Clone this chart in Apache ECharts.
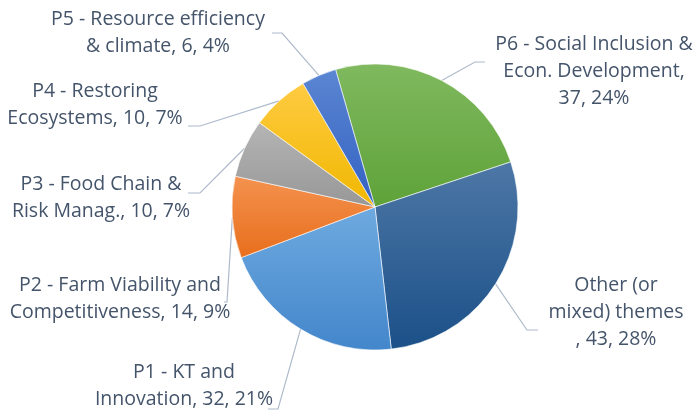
<!DOCTYPE html>
<html>
<head>
<meta charset="utf-8">
<script src="https://cdn.jsdelivr.net/npm/echarts@6/dist/echarts.min.js"></script>
<style>
  html, body { margin: 0; padding: 0; background: #fff; }
  #main { width: 697px; height: 412px; }
</style>
</head>
<body>
<div id="main"></div>
<script>
// data (clockwise from the top slice)
var names = [
    'P6 - Social Inclusion &\nEcon. Development',
    'Other (or\nmixed) themes',
    'P1 - KT and\nInnovation',
    'P2 - Farm Viability and\nCompetitiveness',
    'P3 - Food Chain &\nRisk Manag.',
    'P4 - Restoring\nEcosystems',
    'P5 - Resource efficiency\n& climate'
];
var values = [37, 43, 32, 14, 10, 10, 6];
// how the value part joins onto the name in each label
var joins = [',\n', '\n, ', ', ', ', ', ', ', ', ', ', '];

// gradient colours top -> bottom
var colorTop = ['#80b95f', '#4d77a6', '#6eaae0', '#f4924f', '#b5b5b5', '#ffcb42', '#5b86d2'];
var colorBot = ['#5ea238', '#1b5088', '#4386cb', '#e86e1c', '#979797', '#f0b700', '#3361c2'];

// label placement: label centre, leader bend, leader end
var labelPos = [[594, 71], [616, 312], [184, 386], [120, 299], [101, 198], [95, 105], [158, 33]];
var bendPos = [[475, 62], [527, 330], [278, 409], [227, 302], [200, 193], [200, 126], [282, 33]];
var endPos = [[485, 62], [538, 330], [268, 409], [224, 302], [188, 193], [188, 126], [272, 33]];

var cx = 375, cy = 207, R = 143;
var firstAngle = -16; // degrees clockwise from 12 o'clock

var total = 0;
values.forEach(function (v) { total += v; });
var midPts = [];
var cum = 0;
values.forEach(function (v) {
    var a = (firstAngle + (cum + v / 2) / total * 360) * Math.PI / 180;
    midPts.push([cx + R * Math.sin(a), cy - R * Math.cos(a)]);
    cum += v;
});

var pieData = values.map(function (v, i) {
    return {
        name: names[i],
        value: v,
        itemStyle: {
            color: new echarts.graphic.LinearGradient(0, 0, 0, 1, [
                { offset: 0, color: colorTop[i] },
                { offset: 1, color: colorBot[i] }
            ])
        }
    };
});

var chart = echarts.init(document.getElementById('main'), null, { renderer: 'canvas' });
chart.setOption({
    backgroundColor: '#ffffff',
    animation: false,
    series: [{
        type: 'pie',
        center: [cx, cy],
        radius: R,
        startAngle: 90 - firstAngle,
        clockwise: true,
        data: pieData,
        itemStyle: {
            borderColor: '#ffffff',
            borderWidth: 0.6
        },
        label: {
            show: true,
            color: '#44546a',
            fontFamily: 'Open Sans',
            fontSize: 19.5,
            lineHeight: 27,
            align: 'center',
            overflow: 'none',
            formatter: function (p) {
                var pct = Math.round(p.value / total * 100);
                return p.name + joins[p.dataIndex] + p.value + ', ' + pct + '%';
            }
        },
        labelLine: {
            show: true,
            smooth: false,
            lineStyle: { color: '#aebacb', width: 1.2 }
        },
        labelLayout: function (params) {
            var i = params.dataIndex;
            return {
                x: labelPos[i][0],
                y: labelPos[i][1],
                align: 'center',
                verticalAlign: 'middle',
                labelLinePoints: [midPts[i], bendPos[i], endPos[i]]
            };
        },
        emphasis: { disabled: true }
    }]
});
</script>
</body>
</html>
